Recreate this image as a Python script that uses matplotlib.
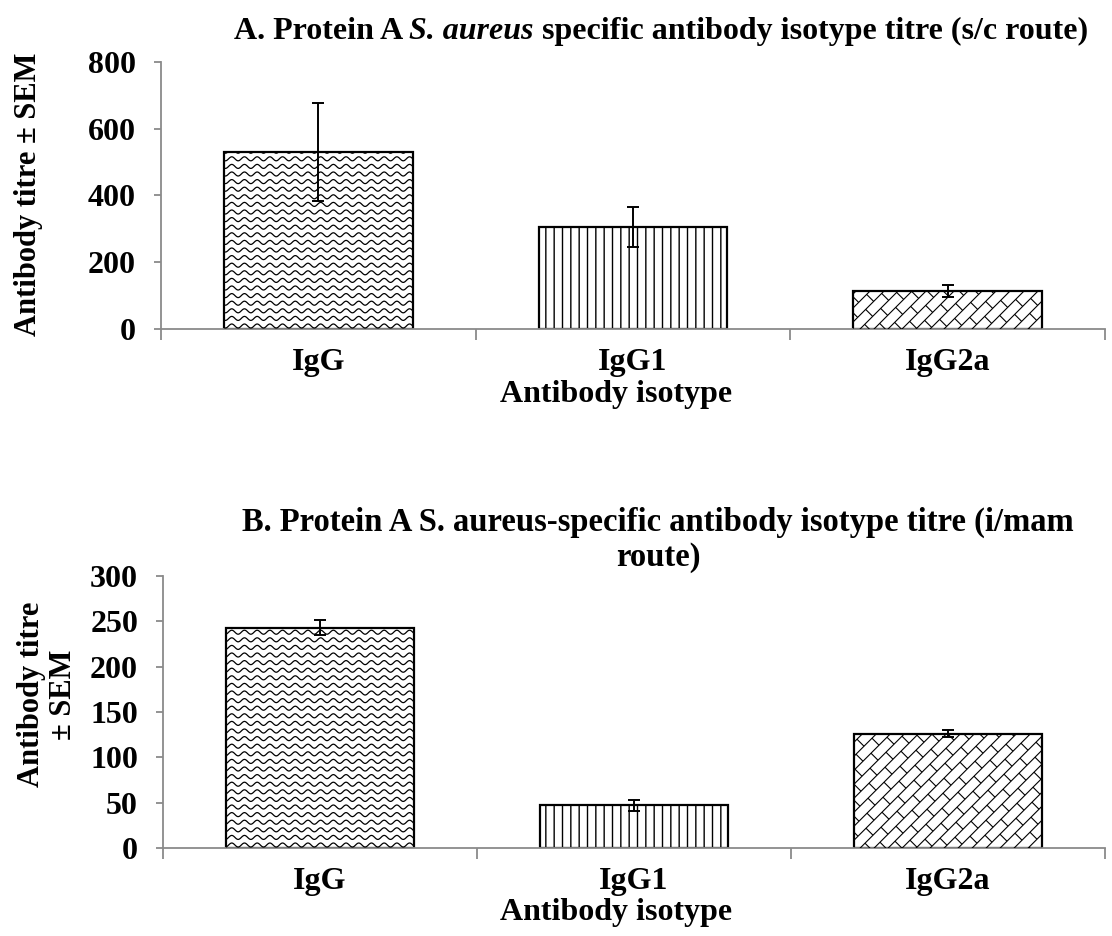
import matplotlib
matplotlib.use("Agg")
import matplotlib.pyplot as plt
import numpy as np
from matplotlib.collections import LineCollection
from matplotlib.transforms import IdentityTransform

plt.rcParams["font.family"] = ["Liberation Serif", "DejaVu Serif"]
plt.rcParams["font.weight"] = "bold"
plt.rcParams["hatch.linewidth"] = 1.0

isotypes = ["IgG", "IgG1", "IgG2a"]
titre_sc = [530, 305, 115]
sem_sc = [148, 60, 18]
titre_mam = [243, 47, 126]
sem_mam = [8, 6, 4]

AXIS_GREY = "#8a8a8a"

fig = plt.figure(figsize=(11.12, 9.36), dpi=100)
ax_a = fig.add_axes([0.1448, 0.6485, 0.8489, 0.2853])
ax_b = fig.add_axes([0.1466, 0.0940, 0.8471, 0.2906])


def draw_panel(ax, values, errs, ymax, ystep):
    x = np.arange(len(isotypes))
    bars = ax.bar(x, values, width=0.6, color="white", edgecolor="black",
                  linewidth=1.6, zorder=2)
    bars[1].set_hatch("||")
    ax.errorbar(x, values, yerr=errs, fmt="none", ecolor="black",
                elinewidth=1.4, capsize=4.5, capthick=1.4, zorder=5)
    ax.set_xlim(-0.5, 2.5)
    ax.set_ylim(0, ymax)
    ax.set_yticks(np.arange(0, ymax + 1, ystep))
    ax.set_xticks(x)
    ax.set_xticklabels(isotypes, fontsize=23)
    ax.set_xticks([-0.5, 0.5, 1.5, 2.5], minor=True)
    ax.tick_params(axis="x", which="major", length=0, pad=14)
    ax.tick_params(axis="x", which="minor", length=8, color=AXIS_GREY,
                   width=1.3)
    ax.tick_params(axis="y", length=5, color=AXIS_GREY, width=1.3,
                   labelsize=23, pad=13)
    for s in ("top", "right"):
        ax.spines[s].set_visible(False)
    for s in ("left", "bottom"):
        ax.spines[s].set_color(AXIS_GREY)
        ax.spines[s].set_linewidth(1.3)
    return bars


bars_a = draw_panel(ax_a, titre_sc, sem_sc, 800, 200)
bars_b = draw_panel(ax_b, titre_mam, sem_mam, 300, 50)

# title A with italic species name, pieces chained left to right
t1 = fig.text(0.210, 0.966, "A. Protein A ", ha="left", va="center",
              fontsize=23)
t2 = fig.text(0, 0, "S. aureus", fontsize=23, style="italic")
t3 = fig.text(0, 0, " specific antibody isotype titre (s/c route)",
              fontsize=23)
fig.canvas.draw()
r = fig.canvas.get_renderer()
inv = fig.transFigure.inverted()
bb1 = t1.get_window_extent(r)
x_next = inv.transform((bb1.x1, 0))[0]
for t in (t2, t3):
    t.set_position((x_next, 0.966))
    t.set_va("center")
    bb = t.get_window_extent(r)
    x_next = inv.transform((bb.x1, 0))[0]

fig.text(0.592, 0.423,
         "B. Protein A S. aureus-specific antibody isotype titre (i/mam\nroute)",
         ha="center", va="center", fontsize=23.5, linespacing=1.15)

fig.text(0.554, 0.578, "Antibody isotype", ha="center", va="center",
         fontsize=23)
fig.text(0.554, 0.025, "Antibody isotype", ha="center", va="center",
         fontsize=23)
fig.text(0.026, 0.792, "Antibody titre \u00b1 SEM", rotation=90,
         ha="center", va="center", fontsize=22)
fig.text(0.043, 0.258, "Antibody titre\n\u00b1 SEM", rotation=90,
         ha="center", va="center", fontsize=22, linespacing=1.15)

fig.canvas.draw()


def wave_fill(ax, bar):
    bb = bar.get_window_extent()
    segs = []
    xs = np.arange(bb.x0 - 5, bb.x1 + 5, 0.5)
    for y0 in np.arange(bb.y0 + 3, bb.y1 + 8, 7.6):
        ys = y0 + 2.0 * np.sin(2 * np.pi * xs / 12.7)
        segs.append(np.column_stack([xs, ys]))
    lc = LineCollection(segs, colors="black", linewidths=0.9,
                        transform=IdentityTransform(), zorder=3)
    ax.add_collection(lc)
    lc.set_clip_path(bar)


def brick_fill(ax, bar):
    bb = bar.get_window_extent()
    s = 14.0
    brick = 32.0
    segs = []
    cmin = bb.y0 - bb.x1 - s
    cmax = bb.y1 - bb.x0 + s
    cs = np.arange(cmin, cmax, s)
    umin = bb.x0 + bb.y0 - 2 * brick
    umax = bb.x1 + bb.y1 + 2 * brick
    for k, c in enumerate(cs):
        # '/' line: y - x = c
        segs.append([((umin - c) / 2, (umin + c) / 2),
                     ((umax - c) / 2, (umax + c) / 2)])
        off = (k % 2) * brick / 2
        for u in np.arange(umin + off, umax, brick):
            segs.append([((u - c) / 2, (u + c) / 2),
                         ((u - c - s) / 2, (u + c + s) / 2)])
    lc = LineCollection(segs, colors="black", linewidths=0.8,
                        transform=IdentityTransform(), zorder=3)
    ax.add_collection(lc)
    lc.set_clip_path(bar)


for bars, ax in ((bars_a, ax_a), (bars_b, ax_b)):
    wave_fill(ax, bars[0])
    brick_fill(ax, bars[2])

fig.savefig("out.png", dpi=100)
